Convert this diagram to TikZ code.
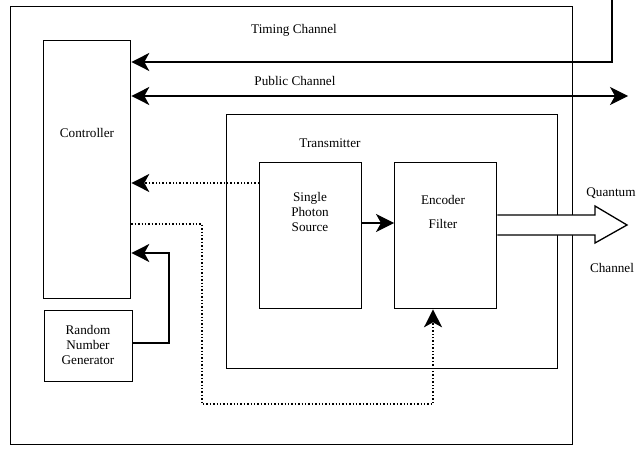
\documentclass[tikz,border=0pt]{standalone}
\usepackage{fontspec}
\setmainfont{Liberation Serif}
\usetikzlibrary{arrows.meta}
\begin{document}
\begin{tikzpicture}[x=1pt,y=-1pt,
  line width=1.3pt,
  box/.style={draw,rectangle,inner sep=0pt,anchor=north west},
  lbl/.style={font=\fontsize{13.2}{15}\selectfont,align=center,inner sep=0pt},
  head/.tip={Stealth[length=18pt,width=18pt,inset=5pt]},
  tip/.style={-head},
  dottip/.style={tip,dotted,line width=1.4pt}]
\useasboundingbox (0,0) rectangle (639,449);

% enclosure
\node[box,minimum width=562pt,minimum height=438pt] (outer) at (10,6) {};

% controller side
\node[box,minimum width=87pt,minimum height=258pt] (ctrl) at (43,40) {};
\node[lbl] (ctrlT) at (87,133) {Controller};
\node[box,minimum width=88pt,minimum height=71pt] (rng) at (44,310) {};
\node[lbl] (rngT) at (88,345) {Random\\Number\\Generator};

% transmitter and its blocks
\node[box,minimum width=331pt,minimum height=254pt] (tx) at (226,114) {};
\node[lbl] (txT) at (330,143) {Transmitter};
\node[box,minimum width=102pt,minimum height=146pt] (sps) at (259,162) {};
\node[lbl] (spsT) at (310,212) {Single\\Photon\\Source};
\node[box,minimum width=102pt,minimum height=146pt] (enc) at (394,162) {};
\node[lbl] (encT) at (443,200) {Encoder};
\node[lbl] (filT) at (443,224) {Filter};

% channels
\coordinate (tcTop) at (612,-2);
\coordinate (tcBend) at (612,62);
\draw[tip] (tcTop) -- (tcBend) -- (ctrl.east |- tcBend);
\node[lbl] (tcT) at (294,30) {Timing Channel};

\coordinate (pcEnd) at (628,96);
\draw[head-head] (ctrl.east |- pcEnd) -- (pcEnd);
\node[lbl] (pcT) at (295,81) {Public Channel};

% quantum channel (hollow arrow)
\draw[fill=white] (enc.east |- 0,215) -- (595,215) -- (595,206) -- (627,225)
  -- (595,243) -- (595,235) -- (enc.east |- 0,235);
\node[lbl] (qT) at (611,193) {Quantum};
\node[lbl] (qC) at (612,268) {Channel};

% internal links
\draw[tip] (sps.east |- 0,223) -- (enc.west |- 0,223);
\draw[dottip] (sps.west |- 0,183) -- (ctrl.east |- 0,183);
\coordinate (d1) at (202,224);
\coordinate (d2) at (202,404);
\coordinate (d3) at (433,404);
\draw[dottip] (ctrl.east |- d1) -- (d1) -- (d2) -- (d3) -- (d3 |- enc.south);
\coordinate (r1) at (169,343);
\coordinate (r2) at (169,253);
\draw[tip] (rng.east |- r1) -- (r1) -- (r2) -- (ctrl.east |- r2);
\end{tikzpicture}
\end{document}
